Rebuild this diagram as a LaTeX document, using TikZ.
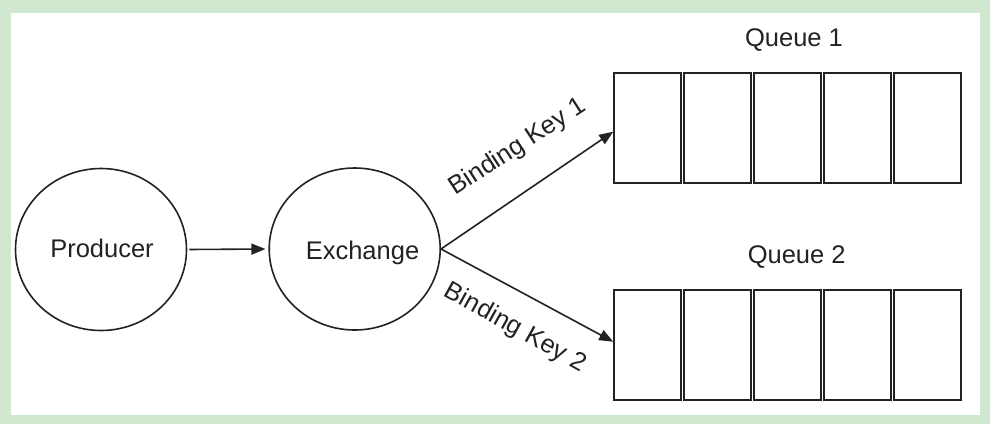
\documentclass[tikz,border=0pt]{standalone}
\usepackage{fontspec}
\setmainfont{Liberation Sans}
\usetikzlibrary{shapes.geometric,arrows.meta}
\definecolor{framegreen}{RGB}{207,232,207}
\definecolor{ink}{RGB}{34,34,34}
\begin{document}
\begin{tikzpicture}[x=1pt,y=-1pt,
  every node/.style={font=\fontsize{25.5}{30}\selectfont, text=ink},
  circ/.style={ellipse, draw=ink, line width=1.6pt, minimum width=171pt, minimum height=162pt, inner sep=0pt},
  cell/.style={rectangle, draw=ink, line width=1.6pt, minimum width=67pt, minimum height=110.5pt, inner sep=0pt},
  conn/.style={draw=ink, line width=1.6pt, -{Triangle[length=14pt,width=11pt]}},
  txt/.style={inner sep=0pt, anchor=base}
]
\useasboundingbox (0,0) rectangle (990,424);
\fill[framegreen] (0,0) rectangle (990,424);
\fill[white] (11,13) rectangle (980,415);

\node[circ] (prod) at (101,249.5) {};
\node[circ] (exch) at (354.7,249) {};
\node[txt] (ptext) at (102,257.3) {Producer};
\node[txt] (etext) at (362.5,259.3) {Exchange};

\foreach \i/\x in {a/647.5,b/717.5,c/787.5,d/857.5,e/927.5}{
  \node[cell] (q1\i) at (\x,128) {};
  \node[cell] (q2\i) at (\x,345) {};
}
\node[txt] (q1lab) at (794,46.7) {Queue 1};
\node[txt] (q2lab) at (796.7,263.3) {Queue 2};

\draw[conn, shorten <=2pt, shorten >=3pt] (prod.east) -- (exch.west);
\draw[conn] (exch.east) -- ([yshift=-3.7pt]q1a.west);
\draw[conn] (exch.east) -- ([yshift=3.3pt]q2a.west);

\node[rotate=33, inner sep=0pt] (bk1) at (517.5,147.5) {Binding Key 1};
\node[rotate=-29, inner sep=0pt] (bk2) at (515,328) {Binding Key 2};
\end{tikzpicture}
\end{document}
